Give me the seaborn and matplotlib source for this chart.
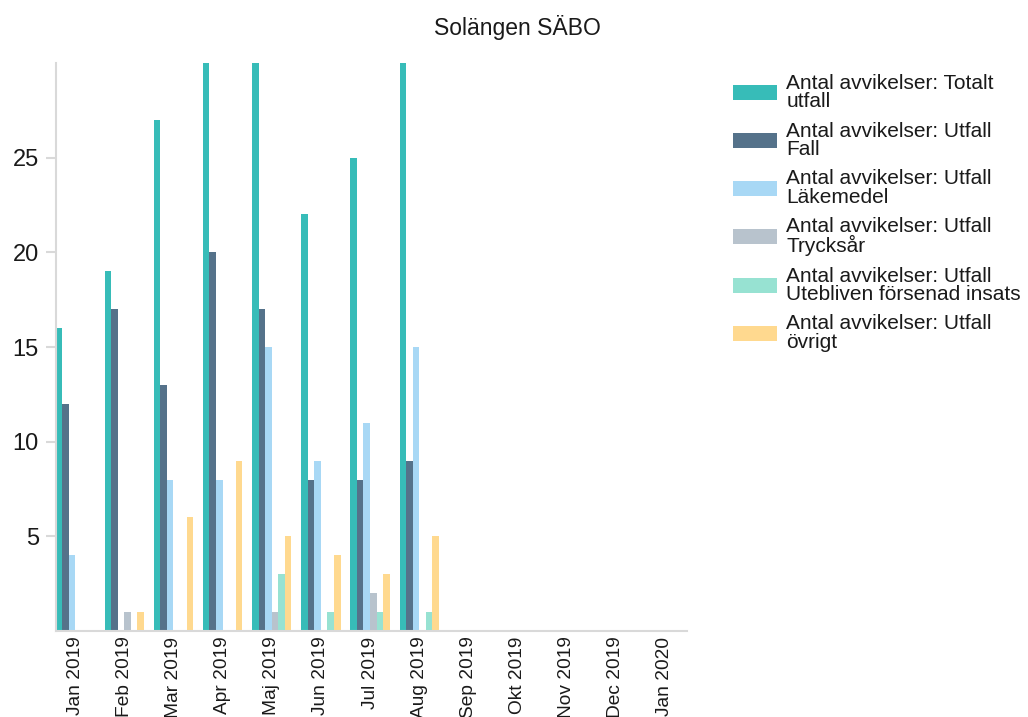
import matplotlib.pyplot as plt
import pandas as pd
import seaborn as sns

# data (bars above 30 are cut by the axis)
months = ["Jan 2019", "Feb 2019", "Mar 2019", "Apr 2019", "Maj 2019", "Jun 2019", "Jul 2019",
          "Aug 2019", "Sep 2019", "Okt 2019", "Nov 2019", "Dec 2019", "Jan 2020"]
series = [
    "Antal avvikelser: Totalt\nutfall",
    "Antal avvikelser: Utfall\nFall",
    "Antal avvikelser: Utfall\nLäkemedel",
    "Antal avvikelser: Utfall\nTrycksår",
    "Antal avvikelser: Utfall\nUtebliven försenad insats",
    "Antal avvikelser: Utfall\növrigt",
]
totalt = [16, 19, 27, 31, 31, 22, 25, 31, 0, 0, 0, 0, 0]
fall = [12, 17, 13, 20, 17, 8, 8, 9, 0, 0, 0, 0, 0]
lakemedel = [4, 0, 8, 8, 15, 9, 11, 15, 0, 0, 0, 0, 0]
trycksar = [0, 1, 0, 0, 1, 0, 2, 0, 0, 0, 0, 0, 0]
utebliven = [0, 0, 0, 0, 3, 1, 1, 1, 0, 0, 0, 0, 0]
ovrigt = [0, 1, 6, 9, 5, 4, 3, 5, 0, 0, 0, 0, 0]
colors = ["#37BCB8", "#55728A", "#A8D8F5", "#B8C3CD", "#97E2D2", "#FFD98F"]

rows = []
for name, vals in zip(series, [totalt, fall, lakemedel, trycksar, utebliven, ovrigt]):
    for m, v in zip(months, vals):
        rows.append({"month": m, "serie": name, "value": v})
df = pd.DataFrame(rows)

sns.set_style("white")
plt.rcParams["font.family"] = ["Liberation Sans", "DejaVu Sans"]

fig = plt.figure(figsize=(10.28, 7.17), dpi=100)
ax = fig.add_axes([55.5 / 1028, 86 / 717, (687 - 55.5) / 1028, (631 - 63) / 717])

sns.barplot(data=df, x="month", y="value", hue="serie", order=months, hue_order=series,
            palette=colors, width=0.8, saturation=1, linewidth=0, ax=ax)

ax.set_ylim(0, 30)
ax.set_xlim(-0.4, 12.45)
ax.set_yticks([5, 10, 15, 20, 25])
ax.set_xlabel("")
ax.set_ylabel("")
for s in ["top", "right"]:
    ax.spines[s].set_visible(False)
for s in ["left", "bottom"]:
    ax.spines[s].set_color("#D9D9D9")
    ax.spines[s].set_linewidth(1.5)
ax.tick_params(axis="y", left=True, length=7, width=1.5, color="#D9D9D9",
               labelsize=17, labelcolor="#1a1a1a", pad=5)
ax.tick_params(axis="x", length=0, labelsize=13.8, labelcolor="#1a1a1a", pad=4)
plt.setp(ax.get_xticklabels(), rotation=90)

handles, labels = ax.get_legend_handles_labels()
ax.get_legend().remove()
leg = fig.legend(handles, labels, loc="upper left", bbox_to_anchor=(733 / 1028, 1 - 74 / 717),
                 frameon=False, borderpad=0, borderaxespad=0, fontsize=15,
                 handlelength=2.1, handleheight=0.75, handletextpad=0.45, labelspacing=0.5)
for t in leg.get_texts():
    t.set_linespacing(0.95)
    t.set_color("#1a1a1a")

fig.text(517 / 1028, 1 - 28 / 717, "Solängen SÄBO", ha="center", va="center",
         fontsize=16.5, color="#1a1a1a")

fig.savefig("out.png", dpi=100)
